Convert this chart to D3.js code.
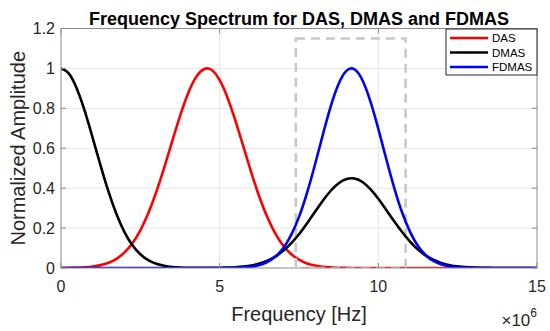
<!DOCTYPE html>
<html>
<head>
<meta charset="utf-8">
<script src="https://cdn.jsdelivr.net/npm/d3@7"></script>
<style>
    body { margin: 0; background: #fff; }
    svg text { font-family: "Liberation Sans", Arial, sans-serif; fill: #262626; }
</style>
</head>
<body>
<svg width="550" height="331"></svg>
<script>
// frequency grid, MHz (axis is shown as Hz x 10^6)
let freq = [0, 0.25, 0.5, 0.75, 1, 1.25, 1.5, 1.75, 2, 2.25, 2.5, 2.75, 3, 3.25, 3.5, 3.75, 4, 4.25, 4.5, 4.75,
    5, 5.25, 5.5, 5.75, 6, 6.25, 6.5, 6.75, 7, 7.25, 7.5, 7.75, 8, 8.25, 8.5, 8.75, 9, 9.25, 9.5, 9.75,
    10, 10.25, 10.5, 10.75, 11, 11.25, 11.5, 11.75, 12, 12.25, 12.5, 12.75, 13, 13.25, 13.5, 13.75, 14, 14.25, 14.5, 14.75, 15];

let das = [0.0003, 0.0008, 0.0017, 0.0037, 0.0074, 0.0144, 0.026, 0.046, 0.078, 0.124, 0.189, 0.274, 0.380, 0.502, 0.633, 0.761, 0.873, 0.955, 0.996, 0.992,
    0.941, 0.852, 0.736, 0.607, 0.477, 0.357, 0.255, 0.174, 0.113, 0.070, 0.042, 0.023, 0.013, 0.0065, 0.0032, 0.0015, 0.0007, 0.0003, 0.0001, 0,
    0, 0, 0, 0, 0, 0, 0, 0, 0, 0, 0, 0, 0, 0, 0, 0, 0, 0, 0, 0, 0];

let dmas = [1, 0.974, 0.898, 0.786, 0.651, 0.512, 0.381, 0.269, 0.180, 0.114, 0.069, 0.039, 0.021, 0.011, 0.0053, 0.0024, 0.0011, 0.0005, 0.0004, 0.0005,
    0.0009, 0.0019, 0.0038, 0.0071, 0.0128, 0.022, 0.036, 0.057, 0.086, 0.123, 0.169, 0.223, 0.280, 0.337, 0.387, 0.425, 0.446, 0.448, 0.431, 0.395,
    0.347, 0.291, 0.234, 0.180, 0.132, 0.092, 0.062, 0.040, 0.024, 0.014, 0.008, 0.0043, 0.0022, 0.0011, 0.0005, 0.0002, 0.0001, 0, 0, 0, 0];

let fdmas = [0, 0, 0, 0, 0, 0, 0, 0, 0, 0, 0, 0, 0, 0, 0, 0, 0, 0, 0, 0,
    0.0002, 0.0005, 0.0013, 0.0031, 0.007, 0.0149, 0.030, 0.056, 0.099, 0.165, 0.256, 0.375, 0.516, 0.667, 0.810, 0.923, 0.989, 0.995, 0.941, 0.835,
    0.697, 0.546, 0.402, 0.278, 0.181, 0.110, 0.063, 0.034, 0.0172, 0.0082, 0.0037, 0.0015, 0.0006, 0.0002, 0, 0, 0, 0, 0, 0, 0];

let seriesNames = ["DAS", "DMAS", "FDMAS"];
let seriesColors = ["#ff0000", "#000000", "#0000ff"];

let xTicks = [0, 5, 10, 15];
let yTicks = [0, 0.2, 0.4, 0.6, 0.8, 1, 1.2];

// zoom box (dashed grey) in data units
let boxFreq = [7.4, 10.86];
let boxAmp = [0, 1.15];

let svg = d3.select("svg"),
    margin = {top: 28.5, right: 13, bottom: 63, left: 61},
    width = +svg.attr("width") - margin.left - margin.right,
    height = +svg.attr("height") - margin.top - margin.bottom;

let x = d3.scaleLinear().domain([0, 15]).range([0, width]);
let y = d3.scaleLinear().domain([0, 1.2]).range([height, 0]);

let g = svg.append("g").attr("transform", "translate(" + margin.left + "," + margin.top + ")");

svg.append("defs").append("clipPath").attr("id", "clip")
    .append("rect").attr("width", width).attr("height", height);

// grid
g.append("g").selectAll("line").data(xTicks.slice(1, -1)).enter().append("line")
    .attr("x1", d => x(d)).attr("x2", d => x(d)).attr("y1", 0).attr("y2", height)
    .attr("stroke", "#e6e6e6").attr("stroke-width", 1);
g.append("g").selectAll("line").data(yTicks.slice(1, -1)).enter().append("line")
    .attr("y1", d => y(d)).attr("y2", d => y(d)).attr("x1", 0).attr("x2", width)
    .attr("stroke", "#e6e6e6").attr("stroke-width", 1);

let line = function (values) {
    return d3.line()
        .x((d, i) => x(freq[i]))
        .y(d => y(d))
        .curve(d3.curveNatural)(values);
};

let plot = g.append("g").attr("clip-path", "url(#clip)");

// DAS first, then the zoom box, then DMAS and FDMAS on top
plot.append("path").attr("d", line(das))
    .attr("fill", "none").attr("stroke", seriesColors[0]).attr("stroke-width", 2.6);

plot.append("rect")
    .attr("x", x(boxFreq[0])).attr("y", y(boxAmp[1]))
    .attr("width", x(boxFreq[1]) - x(boxFreq[0]))
    .attr("height", y(boxAmp[0]) - y(boxAmp[1]))
    .attr("fill", "none").attr("stroke", "#c8c8c8").attr("stroke-width", 2.6)
    .attr("stroke-dasharray", "9,6");

plot.append("path").attr("d", line(dmas))
    .attr("fill", "none").attr("stroke", seriesColors[1]).attr("stroke-width", 2.6);
plot.append("path").attr("d", line(fdmas))
    .attr("fill", "none").attr("stroke", seriesColors[2]).attr("stroke-width", 2.6);

// axes frame + inward ticks on all sides
let axisColor = "#8a8a8a";
g.append("rect").attr("width", width).attr("height", height)
    .attr("fill", "none").attr("stroke", axisColor).attr("stroke-width", 1);

let tickLen = 5;
xTicks.forEach(function (t) {
    g.append("line").attr("x1", x(t)).attr("x2", x(t)).attr("y1", height).attr("y2", height - tickLen).attr("stroke", axisColor);
    g.append("line").attr("x1", x(t)).attr("x2", x(t)).attr("y1", 0).attr("y2", tickLen).attr("stroke", axisColor);
    g.append("text").attr("x", x(t)).attr("y", height + 23.5)
        .attr("text-anchor", "middle").style("font-size", "16px").text(t);
});
yTicks.forEach(function (t) {
    g.append("line").attr("y1", y(t)).attr("y2", y(t)).attr("x1", 0).attr("x2", tickLen).attr("stroke", axisColor);
    g.append("line").attr("y1", y(t)).attr("y2", y(t)).attr("x1", width).attr("x2", width - tickLen).attr("stroke", axisColor);
    g.append("text").attr("x", -6).attr("y", y(t)).attr("dy", "0.36em")
        .attr("text-anchor", "end").style("font-size", "16px").text(t);
});

// labels
svg.append("text").attr("x", margin.left + width / 2).attr("y", 24.5)
    .attr("text-anchor", "middle").style("font-size", "18px").style("font-weight", "bold").style("fill", "#000")
    .text("Frequency Spectrum for DAS, DMAS and FDMAS");

svg.append("text").attr("x", margin.left + width / 2).attr("y", 321)
    .attr("text-anchor", "middle").style("font-size", "20px")
    .text("Frequency [Hz]");

svg.append("text")
    .attr("transform", "translate(" + 25 + "," + (margin.top + height / 2) + ") rotate(-90)")
    .attr("text-anchor", "middle").style("font-size", "20px")
    .text("Normalized Amplitude");

let expo = svg.append("text").attr("x", margin.left + width).attr("y", 326)
    .attr("text-anchor", "end").style("font-size", "17px");
expo.append("tspan").text("\u00d710");
expo.append("tspan").attr("dy", "-9").style("font-size", "12px").text("6");

// legend
let legend = g.append("g").attr("transform", "translate(" + (width - 91) + ",0.5)");
legend.append("rect").attr("width", 91).attr("height", 46)
    .attr("fill", "#fff").attr("stroke", "#262626").attr("stroke-width", 1);
seriesNames.forEach(function (name, i) {
    let ly = 9 + i * 14.5;
    legend.append("line").attr("x1", 4).attr("x2", 42).attr("y1", ly).attr("y2", ly)
        .attr("stroke", seriesColors[i]).attr("stroke-width", 2.6);
    legend.append("text").attr("x", 46).attr("y", ly).attr("dy", "0.36em")
        .style("font-size", "11.5px").style("fill", "#000").text(name);
});
</script>
</body>
</html>
